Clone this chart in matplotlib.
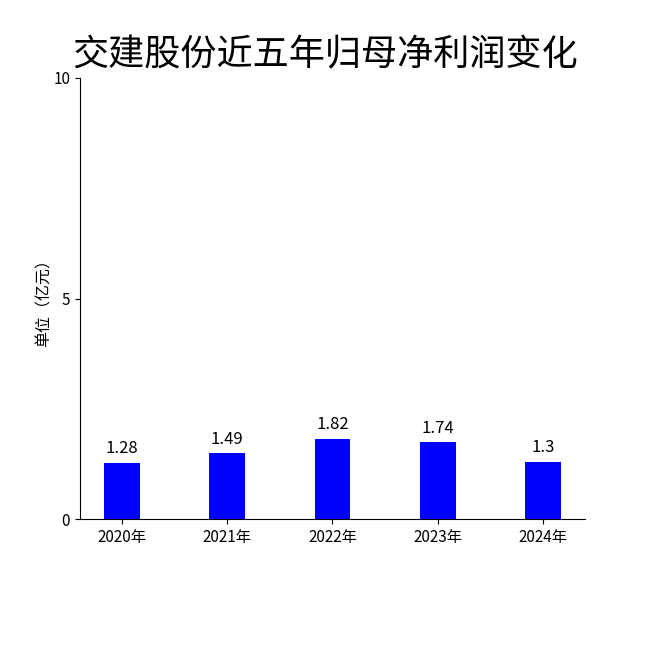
import matplotlib.pyplot as plt

plt.rcParams['font.family'] = ['Noto Sans CJK SC', 'DejaVu Sans']

years = ['2020年', '2021年', '2022年', '2023年', '2024年']
profit = [1.28, 1.49, 1.82, 1.74, 1.3]
labels = ['1.28', '1.49', '1.82', '1.74', '1.3']

fig = plt.figure(figsize=(6.5, 6.5), dpi=100)
ax = fig.add_axes([0.123, 0.2015, 0.777, 0.6785])

x = range(len(years))
ax.bar(x, profit, width=0.34, color='#0000ff')
for i, v in enumerate(profit):
    ax.text(i, v + 0.12, labels[i], ha='center', va='bottom', fontsize=12)

ax.set_xlim(-0.4, 4.4)
ax.set_ylim(0, 10)
ax.set_yticks([0, 5, 10])
ax.set_xticks(list(x))
ax.set_xticklabels(years, fontsize=11)
ax.tick_params(axis='y', labelsize=11)
ax.spines['top'].set_visible(False)
ax.spines['right'].set_visible(False)
ax.set_ylabel('单位（亿元）', fontsize=11.5)
ax.yaxis.set_label_coords(-0.055, 0.5)

fig.suptitle('交建股份近五年归母净利润变化', fontsize=26, y=0.943)

fig.savefig('out.png')
